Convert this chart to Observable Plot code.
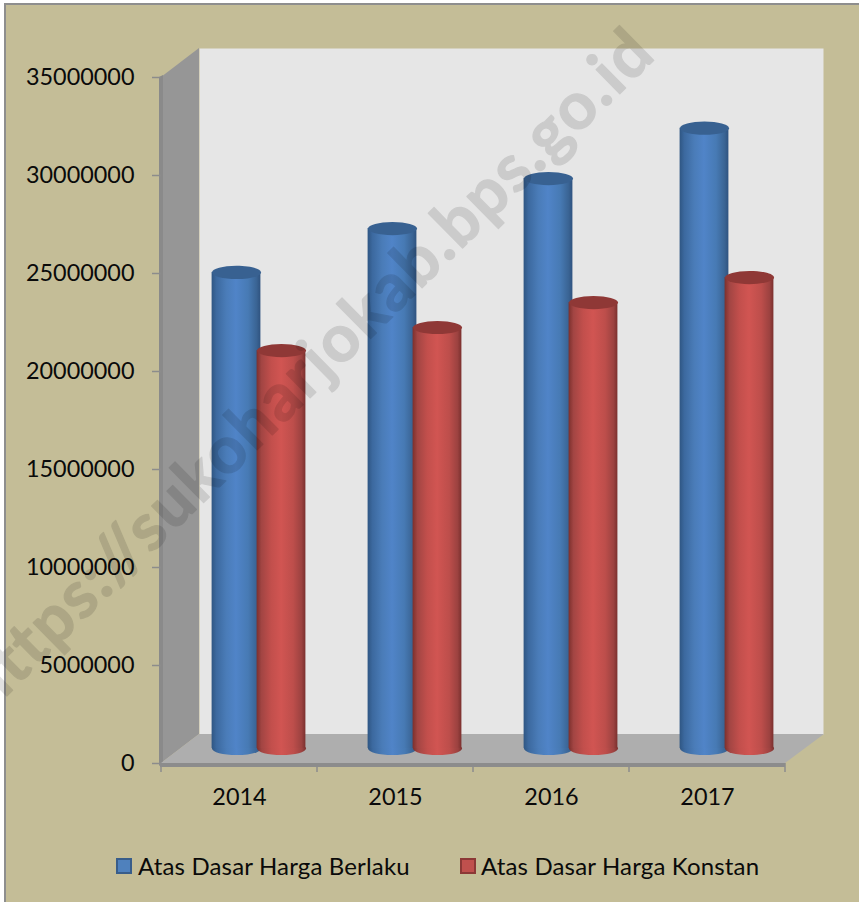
<!DOCTYPE html>
<html><head><meta charset="utf-8">
<script src="https://cdn.jsdelivr.net/npm/d3@7"></script>
<script src="https://cdn.jsdelivr.net/npm/@observablehq/plot@0.6"></script>
<style>
html,body{margin:0;padding:0;background:#fff;width:859px;height:902px;overflow:hidden;font-family:Lato,"Open Sans",sans-serif}
#panel{position:absolute;left:4px;top:3px;right:0;bottom:0;background:#c4bd97;border-left:2px solid #8e8e8e;border-top:2px solid #8e8e8e}
#chart{position:absolute;left:0;top:0}
#chart svg{background:transparent;display:block}
#legend{position:absolute;left:0;top:852px;width:859px;height:28px;font-size:24px;letter-spacing:.16px;color:#0a0a0a;line-height:28px}
#legend span{position:absolute;white-space:nowrap}
#legend i{position:absolute;top:6px;width:12px;height:12px;border:2px solid}
</style></head><body>
<div id="panel"></div>
<div id="chart"></div>
<div id="legend"></div>
<script>
const years = ["2014", "2015", "2016", "2017"];
const berlaku = [24290000, 26530000, 29080000, 31650000];
const konstan = [20300000, 21480000, 22750000, 24030000];
const seriesNames = ["Atas Dasar Harga Berlaku", "Atas Dasar Harga Konstan"];
const yTicks = [0, 5000000, 10000000, 15000000, 20000000, 25000000, 30000000, 35000000];
const watermark = "https://sukoharjokab.bps.go.id";

const depth = {dx: 38, dy: -29};
const cyl = {dy: -15, dxA: -3, dxB: 42, rx: 24.5};

const rowsA = years.map((year, i) => ({year, value: berlaku[i]}));
const rowsB = years.map((year, i) => ({year, value: konstan[i]}));

// Flattened circle, so Plot.dot draws a cylinder cap.
const capSymbol = {
  draw(c, size) {
    const rx = Math.sqrt(size / Math.PI), ry = rx * 0.27, kx = rx * 0.5523, ky = ry * 0.5523;
    c.moveTo(-rx, 0);
    c.bezierCurveTo(-rx, -ky, -kx, -ry, 0, -ry);
    c.bezierCurveTo(kx, -ry, rx, -ky, rx, 0);
    c.bezierCurveTo(rx, ky, kx, ry, 0, ry);
    c.bezierCurveTo(-kx, ry, -rx, ky, -rx, 0);
    c.closePath();
  }
};

const svgNS = "http://www.w3.org/2000/svg";
function el(name, attrs, parent) {
  const n = document.createElementNS(svgNS, name);
  for (const k in attrs) n.setAttribute(k, attrs[k]);
  if (parent) parent.appendChild(n);
  return n;
}
function gradients() {
  const defs = el("defs", {});
  const add = (id, stops) => {
    const g = el("linearGradient", {id, x1: 0, x2: 1, y1: 0, y2: 0}, defs);
    stops.forEach(([o, c]) => el("stop", {offset: o, "stop-color": c}, g));
  };
  add("gBlue", [[0, "#2f5683"], [0.1, "#3c699f"], [0.3, "#4a7cb8"], [0.5, "#5084c8"], [0.75, "#477ab4"], [0.92, "#3a6494"], [1, "#2f5380"]]);
  add("gRed", [[0, "#7c302d"], [0.1, "#a24543"], [0.3, "#c24f4c"], [0.5, "#d15552"], [0.75, "#bd4e4b"], [0.92, "#9c4240"], [1, "#7b302e"]]);
  return defs;
}
// Side wall, floor and the frame ticks of the 3D box, placed from the plot's scales.
function box(index, {x, y}, channels, dims) {
  const g = el("g", {});
  const x0 = dims.marginLeft, x1 = dims.width - dims.marginRight;
  const y0 = y(0), yT = y(35000000);
  const {dx, dy} = depth;
  const poly = (pts, fill) => el("polygon", {points: pts.map(p => p.join(",")).join(" "), fill}, g);
  poly([[x0, y0], [x0, yT], [x0 + dx, yT + dy], [x0 + dx, y0 + dy]], "#969696");
  poly([[x0 - 2, yT], [x0 + 2, yT - 2], [x0 + 2, y0], [x0 - 2, y0 + 3]], "#8a8a8a");
  poly([[x0, y0], [x0 + dx, y0 + dy], [x1 + dx + 1, y0 + dy], [x1, y0]], "#aeaeae");
  poly([[x0 - 1, y0], [x1, y0], [x1, y0 + 4], [x0 - 1, y0 + 4]], "#8c8c8c");
  const edges = years.map(d => x(d)).concat(x1);
  edges.forEach(e => el("line", {x1: e, x2: e, y1: y0, y2: y0 + 9, stroke: "#8c8c8c", "stroke-width": 1.5}, g));
  return g;
}
function cylinder(rows, grad, cap, dx) {
  return [
    Plot.dot(rows, {x: "year", y: () => 0, r: cyl.rx, symbol: capSymbol, fill: grad, dx, dy: cyl.dy}),
    Plot.barY(rows, {x: "year", y: "value", fill: grad, dx, dy: cyl.dy, insetLeft: 53.6, insetRight: 53.6}),
    Plot.dot(rows, {x: "year", y: "value", r: cyl.rx, symbol: capSymbol, fill: cap, dx, dy: cyl.dy})
  ];
}

const chart = Plot.plot({
  width: 859, height: 902,
  marginLeft: 161, marginRight: 74, marginTop: 77, marginBottom: 139,
  style: {background: "transparent", fontFamily: "Lato, 'Open Sans', sans-serif"},
  x: {type: "band", domain: years, padding: 0, axis: null},
  y: {domain: [0, 35000000], axis: null},
  marks: [
    gradients,
    Plot.frame({fill: "#e6e6e6", stroke: "none", ...depth}),
    box,
    Plot.axisY(yTicks, {tickSize: 9, tickPadding: 18, tickFormat: "d", fontSize: 23.4, stroke: "#8c8c8c", fill: "#0a0a0a", strokeWidth: 1.5, label: null, marginLeft: 161}),
    Plot.text(years, {x: d => d, frameAnchor: "bottom", lineAnchor: "middle", dy: 34, fontSize: 23.4, fill: "#0a0a0a"}),
    ...cylinder(rowsA, "url(#gBlue)", "#386191", cyl.dxA),
    ...cylinder(rowsB, "url(#gRed)", "#8f3836", cyl.dxB),
    Plot.text([watermark], {
      frameAnchor: "top-left", text: d => d, textAnchor: "middle",
      fontSize: 66, fontWeight: 700, fill: "#000", stroke: "#000", strokeWidth: 1.2, opacity: 0.115,
      render(index, scales, values, dims, ctx, next) {
        const g = next(index, scales, values, dims, ctx);
        g.querySelectorAll("text").forEach(t => {
          t.setAttribute("transform", "translate(290,351) rotate(-44.5)");
          t.style.letterSpacing = "1.8px";
        });
        return g;
      }
    })
  ]
});
document.getElementById("chart").appendChild(chart);

const legend = document.getElementById("legend");
const legendColors = [["#4f81bd", "#385d8a"], ["#c0504d", "#8c3836"]];
const legendSwatchX = [116, 460];
const legendTextX = [138, 481];
seriesNames.forEach((name, i) => {
  const sw = document.createElement("i");
  sw.style.left = legendSwatchX[i] + "px";
  sw.style.background = legendColors[i][0];
  sw.style.borderColor = legendColors[i][1];
  legend.appendChild(sw);
  const s = document.createElement("span");
  s.style.left = legendTextX[i] + "px";
  s.textContent = name;
  legend.appendChild(s);
});
</script>
</body></html>
